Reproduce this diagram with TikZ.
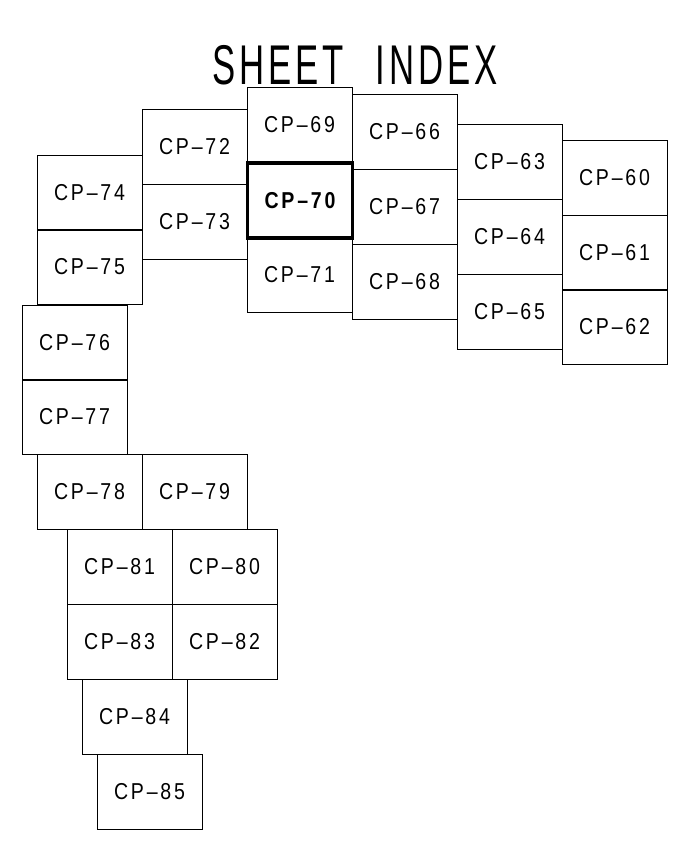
\documentclass[tikz,border=0pt]{standalone}
\usepackage{fontspec}
\newfontfamily\cadfont[FakeStretch=0.85,LetterSpace=12]{Liberation Sans}
\newfontfamily\cadtitle[FakeStretch=0.62,LetterSpace=7]{Liberation Sans}

\tikzset{
    sheet/.style={draw,line width=0.8pt,minimum width=105pt,minimum height=75pt,
        inner sep=0pt,font=\cadfont\fontsize{23}{23}\selectfont},
    current/.style={sheet,line width=3.2pt,font=\cadfont\bfseries\fontsize{23}{23}\selectfont}
}

\begin{document}
\begin{tikzpicture}[x=1pt,y=-1pt]
    \useasboundingbox (0,0) rectangle (679,850);
    \node[font=\cadtitle\fontsize{56}{56}\selectfont] (title) at (355,65) {SHEET\hspace{18pt} INDEX};
    % sheets, centre of each box
    \foreach \n/\x/\y in {60/614.5/177.5, 61/614.5/252.5, 62/614.5/327,
        63/509.5/162, 64/509.5/236.5, 65/509.5/311.5,
        66/404.5/132, 67/404.5/206.5, 68/404.5/281.5,
        69/299.5/125, 71/299.5/275,
        72/194.5/146.5, 73/194.5/222, 74/89.5/192.5, 75/89.5/267,
        76/74.5/342.5, 77/74.5/417, 78/89.5/491.5, 79/194.5/491.5,
        80/224.5/567, 81/119.5/567, 82/224.5/641.5, 83/119.5/641.5,
        84/134.5/716.5, 85/149.5/791.5}
    \node[sheet] (cp\n) at (\x,\y) {CP–\n};
    \node[current] (cp70) at (300,200.5) {CP–70};
\end{tikzpicture}
\end{document}
